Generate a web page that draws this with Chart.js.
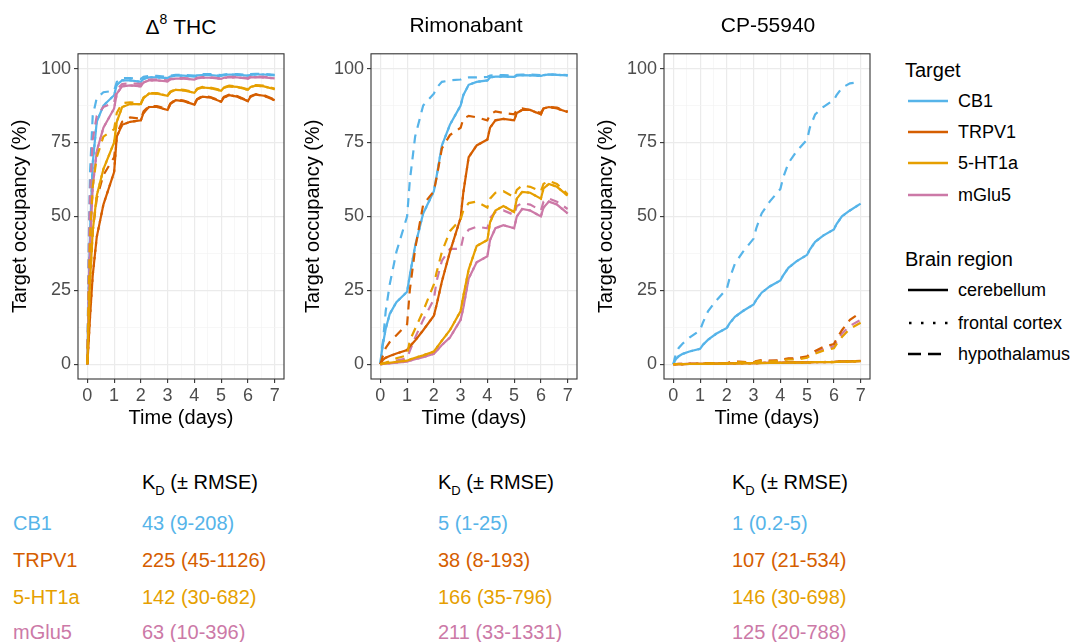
<!DOCTYPE html>
<html>
<head>
<meta charset="utf-8">
<script src="https://cdn.jsdelivr.net/npm/chart.js@4"></script>
<style>
  body { margin: 0; background: #fff; font-family: "Liberation Sans", Arial, sans-serif; }
  #wrap { position: relative; width: 1073px; height: 642px; overflow: hidden; background: #fff; }
  canvas { position: absolute; top: 40px; }
  .ttl { position: absolute; top: 13px; font-size: 21px; color: #000; transform: translateX(-50%); white-space: nowrap; }
  .ttl sup { font-size: 14px; position: relative; top: -2px; }
  .lg { position: absolute; font-size: 18px; line-height: 20px; color: #000; white-space: nowrap; }
  .lgh { position: absolute; font-size: 20px; color: #000; white-space: nowrap; }
  .key { position: absolute; left: 908px; line-height: 0; }
  .key svg { display: block; }
  .tb { position: absolute; font-size: 20px; white-space: nowrap; line-height: 1; }
  .tb sub { font-size: 13px; position: relative; top: 1px; }
</style>
</head>
<body>
<div id="wrap">
  <canvas id="c0" width="300" height="400" style="left:0px"></canvas>
  <canvas id="c1" width="300" height="400" style="left:293px"></canvas>
  <canvas id="c2" width="300" height="400" style="left:586px"></canvas>
</div>
<script>
// time points (days)
const days = [0, 0.05, 0.1, 0.2, 0.35, 0.6, 1, 1.1, 1.3, 1.6, 2, 2.1, 2.3, 2.6, 3, 3.1, 3.3, 3.6, 4, 4.1, 4.3, 4.6, 5, 5.1, 5.3, 5.6, 6, 6.1, 6.3, 6.6, 7];

const targets = ["CB1", "TRPV1", "5-HT1a", "mGlu5"];
const targetColors = ["#56B4E9", "#D55E00", "#E69F00", "#CC79A7"];
const regions = ["cerebellum", "frontal cortex", "hypothalamus"];
const panelTitles = ["Δ<sup>8</sup> THC", "Rimonabant", "CP-55940"];

// Delta-8 THC, occupancy %
const thcCB1Cb = [0, 25, 45, 68, 82, 87.5, 91, 94.5, 96, 96, 95.5, 96.5, 97, 97, 96.8, 97.3, 97.6, 97.6, 97.3, 97.7, 97.8, 97.8, 97.5, 97.8, 98, 97.9, 97.6, 97.9, 98, 98, 97.7];
const thcCB1Hy = [0, 40, 65, 84, 90, 92, 92.5, 95.5, 96.8, 96.8, 96.5, 97.2, 97.5, 97.5, 97.2, 97.6, 97.9, 97.9, 97.6, 97.9, 98.1, 98.1, 97.8, 98, 98.2, 98.1, 97.8, 98.1, 98.2, 98.2, 97.9];
const thcTRCb = [0, 8, 16, 30, 43, 54, 65, 77, 81, 82, 82.5, 85, 87, 87, 86, 88, 89.3, 89, 87.8, 89.5, 90.5, 90.2, 88.8, 90.2, 91, 90.5, 89, 90.5, 91.2, 90.8, 89.3];
const thcTRHy = [0, 15, 28, 45, 56, 64, 70, 78, 82, 83.5, 83, 85.5, 87.3, 87.3, 86.3, 88.2, 89.5, 89.2, 88, 89.7, 90.7, 90.4, 89, 90.4, 91.2, 90.7, 89.2, 90.7, 91.4, 91, 89.5];
const thcHTCb = [0, 15, 28, 45, 57, 66, 75, 82, 87, 88, 88, 90, 91.5, 91.5, 90.8, 92, 92.8, 92.6, 91.8, 93, 93.6, 93.4, 92.5, 93.5, 94, 93.8, 92.8, 93.8, 94.2, 94, 93];
const thcHTHy = [0, 25, 43, 60, 70, 77, 79.5, 85, 88.3, 88.6, 88.3, 90.2, 91.7, 91.7, 91, 92.2, 93, 92.8, 92, 93.2, 93.8, 93.6, 92.7, 93.7, 94.2, 94, 93, 94, 94.4, 94.2, 93.2];
const thcMGCb = [0, 22, 40, 60, 72, 80, 86.5, 91.5, 94, 94.3, 94, 95.3, 96, 96, 95.7, 96.3, 96.6, 96.6, 96.3, 96.7, 96.9, 96.9, 96.5, 96.9, 97, 97, 96.6, 97, 97.1, 97, 96.7];
const thcMGHy = [0, 35, 58, 76, 84, 87, 88.5, 93, 94.8, 95, 94.8, 95.8, 96.3, 96.3, 96, 96.5, 96.8, 96.8, 96.5, 96.9, 97.1, 97.1, 96.7, 97.1, 97.2, 97.2, 96.8, 97.2, 97.3, 97.2, 96.9];

// Rimonabant
const rimCB1Cb = [0, 4, 7, 12, 17, 21, 24.5, 30, 40, 51, 58.5, 63.5, 74, 81, 87.5, 91, 94.5, 95.5, 96, 97, 97.3, 97.3, 97.2, 97.6, 97.8, 97.7, 97.5, 97.8, 98, 97.9, 97.7];
const rimCB1Hy = [0, 5, 8, 18, 27, 38, 50, 62, 77, 87.5, 91.5, 93.5, 95.5, 96, 96.3, 96.8, 97, 97, 97.2, 97.6, 97.8, 97.8, 97.6, 97.9, 98, 98, 97.8, 98, 98, 98, 97.8];
const rimTRCb = [0, 0.8, 1.5, 2.2, 2.8, 3.6, 4.8, 6, 8, 11.5, 16.4, 20, 28, 38, 49.5, 58, 70, 74, 76, 80, 82.5, 83, 82.5, 85, 86, 86, 84.5, 86.5, 87, 86.5, 85.3];
const rimTRHy = [0, 1.5, 3, 5.5, 7.5, 9.8, 13.5, 25, 39, 54, 58.5, 63, 73, 77.5, 80, 83, 84, 83.5, 82.5, 84.5, 85.5, 85, 84.5, 86, 86.5, 86, 85, 86.5, 87, 86.8, 85.5];
const rimHTCb = [0, 0.1, 0.2, 0.3, 0.5, 0.8, 1.2, 1.6, 2.2, 3, 4.3, 5.5, 8, 11.5, 18, 23, 32, 40, 42, 48, 52, 53.5, 51.5, 56, 58.3, 58, 56, 59.5, 61, 60, 57];
const rimHTHy = [0, 0.1, 0.3, 0.6, 1, 2, 3, 8, 12, 18, 27, 31, 38, 45, 49, 52, 54.5, 55, 53, 56, 58, 58.5, 56.5, 59, 60.5, 60, 58.5, 61, 62, 61, 57.5];
const rimMGCb = [0, 0.05, 0.1, 0.2, 0.3, 0.5, 0.9, 1.2, 1.7, 2.4, 3.5, 4.5, 6.5, 9, 15, 19, 29, 34.5, 36.5, 42, 46, 47, 46, 50, 52.5, 52, 50, 53, 55, 54, 51];
const rimMGHy = [0, 0.05, 0.2, 0.4, 0.7, 1.2, 2, 4.5, 9, 15, 22, 28, 35, 39, 39, 43, 45.5, 46.5, 46, 49.5, 51.5, 52, 50.5, 53.5, 54.5, 54, 52, 55, 56, 55, 52.5];

// CP-55940
const cpCB1Cb = [0, 1, 1.8, 2.7, 3.5, 4.3, 5.2, 6.5, 8.3, 10.3, 12.3, 13.8, 16, 18, 20.2, 21.8, 24.2, 26.3, 28.3, 30, 32.6, 34.8, 37, 38.8, 41.4, 43.5, 45.6, 47.4, 50, 52, 54.3];
const cpCB1Hy = [0, 2, 3.5, 5.5, 7, 9, 11.5, 14, 18, 21.5, 25.5, 29, 34, 38, 42.5, 46, 51, 55, 59.3, 63, 68, 72, 76, 80, 84.5, 87, 89.4, 91, 93.5, 95, 95.5];
const cpTRCb = [0, 0, 0, 0.05, 0.05, 0.1, 0.1, 0.15, 0.2, 0.2, 0.25, 0.3, 0.3, 0.35, 0.35, 0.4, 0.45, 0.45, 0.5, 0.55, 0.6, 0.6, 0.6, 0.7, 0.75, 0.75, 0.8, 0.85, 0.95, 0.95, 1.1];
const cpTRHy = [0, 0, 0.05, 0.1, 0.1, 0.1, 0.1, 0.3, 0.4, 0.35, 0.3, 0.6, 0.9, 0.8, 0.6, 1.1, 1.4, 1.2, 1.3, 1.7, 2, 2, 2.7, 3.5, 4.5, 5.8, 6.8, 8.5, 11.5, 15, 17.5];
const cpHTCb = [0, 0, 0, 0.03, 0.05, 0.08, 0.1, 0.12, 0.15, 0.18, 0.2, 0.25, 0.28, 0.3, 0.32, 0.36, 0.4, 0.42, 0.45, 0.5, 0.55, 0.56, 0.57, 0.62, 0.68, 0.7, 0.72, 0.8, 0.88, 0.9, 1];
const cpHTHy = [0, 0, 0.03, 0.08, 0.08, 0.08, 0.08, 0.25, 0.3, 0.28, 0.25, 0.5, 0.7, 0.65, 0.5, 0.9, 1.1, 1, 1.1, 1.4, 1.6, 1.6, 2.2, 2.8, 3.6, 4.6, 5.4, 6.8, 9.2, 12, 14];
const cpMGCb = [0, 0, 0, 0.04, 0.05, 0.09, 0.1, 0.13, 0.17, 0.19, 0.22, 0.27, 0.3, 0.32, 0.34, 0.38, 0.42, 0.44, 0.47, 0.52, 0.57, 0.58, 0.58, 0.65, 0.7, 0.72, 0.75, 0.82, 0.9, 0.92, 1.05];
const cpMGHy = [0, 0, 0.04, 0.09, 0.09, 0.09, 0.09, 0.27, 0.35, 0.3, 0.28, 0.55, 0.8, 0.72, 0.55, 1, 1.25, 1.1, 1.2, 1.5, 1.8, 1.8, 2.5, 3.1, 4, 5.1, 6, 7.6, 10.3, 13, 15];

// [panel][target] -> [cerebellum, frontal cortex, hypothalamus]
// frontal cortex curves sit right under the cerebellum ones
const panelSeries = [
  [[thcCB1Cb, thcCB1Cb, thcCB1Hy], [thcTRCb, thcTRCb, thcTRHy], [thcHTCb, thcHTCb, thcHTHy], [thcMGCb, thcMGCb, thcMGHy]],
  [[rimCB1Cb, rimCB1Cb, rimCB1Hy], [rimTRCb, rimTRCb, rimTRHy], [rimHTCb, rimHTCb, rimHTHy], [rimMGCb, rimMGCb, rimMGHy]],
  [[cpCB1Cb, cpCB1Cb, cpCB1Hy], [cpTRCb, cpTRCb, cpTRHy], [cpHTCb, cpHTCb, cpHTHy], [cpMGCb, cpMGCb, cpMGHy]]
];

// K_D table (± RMSE)
const kdTHC = ["43 (9-208)", "225 (45-1126)", "142 (30-682)", "63 (10-396)"];
const kdRim = ["5 (1-25)", "38 (8-193)", "166 (35-796)", "211 (33-1331)"];
const kdCP = ["1 (0.2-5)", "107 (21-534)", "146 (30-698)", "125 (20-788)"];

const yTicks = [0, 25, 50, 75, 100];
const xTicks = [0, 1, 2, 3, 4, 5, 6, 7];

Chart.defaults.font.family = "'Liberation Sans', Arial, sans-serif";

const dashFor = { "cerebellum": [], "frontal cortex": [2.5, 5], "hypothalamus": [9, 7] };

const boxPlugin = {
  id: "box",
  afterDatasetsDraw(chart) {
    const a = chart.chartArea, c = chart.ctx;
    c.save();
    c.strokeStyle = "#333333";
    c.lineWidth = 1.1;
    c.strokeRect(a.left, a.top, a.right - a.left, a.bottom - a.top);
    c.restore();
  }
};

const drawOrder = [0, 3, 1, 2];       // bottom to top
const regionOrder = [1, 0, 2];

panelSeries.forEach((series, p) => {
  let ds = [];
  drawOrder.forEach(t => {
    regionOrder.forEach(r => {
      ds.push({
        label: targets[t] + " " + regions[r],
        data: days.map((d, i) => ({ x: d, y: series[t][r][i] })),
        borderColor: targetColors[t],
        borderWidth: 2.2,
        borderDash: dashFor[regions[r]],
        pointRadius: 0,
        fill: false,
        tension: 0
      });
    });
  });
  ds = ds.reverse(); // first dataset is painted last in Chart.js

  new Chart(document.getElementById("c" + p), {
    type: "line",
    data: { datasets: ds },
    options: {
      responsive: false,
      animation: false,
      layout: { padding: { top: 11, right: 16, left: 0, bottom: 0 } },
      plugins: { legend: { display: false }, tooltip: { enabled: false } },
      scales: {
        x: {
          type: "linear",
          min: -0.35, max: 7.35,
          afterFit: s => { s.height = 61; },
          border: { display: false },
          grid: {
            color: c => Number.isInteger(c.tick.value) ? "#ebebeb" : "#f4f4f4",
            lineWidth: c => Number.isInteger(c.tick.value) ? 1.2 : 0.7,
            tickColor: c => Number.isInteger(c.tick.value) ? "#333333" : "rgba(0,0,0,0)",
            tickWidth: 1.1,
            tickLength: 4
          },
          ticks: {
            stepSize: 0.5, includeBounds: false, autoSkip: false, maxRotation: 0,
            padding: 2, color: "#4d4d4d", font: { size: 18 },
            callback: v => xTicks.includes(v) ? String(v) : ""
          },
          title: { display: true, text: "Time (days)", color: "#000", font: { size: 20, lineHeight: 1.2 }, padding: { top: 0, bottom: 10 } }
        },
        y: {
          min: -5, max: 105,
          afterFit: s => { s.width = 78; },
          border: { display: false },
          grid: {
            color: c => c.tick.value % 25 === 0 ? "#ebebeb" : "#f4f4f4",
            lineWidth: c => c.tick.value % 25 === 0 ? 1.2 : 0.7,
            tickColor: c => c.tick.value % 25 === 0 ? "#333333" : "rgba(0,0,0,0)",
            tickWidth: 1.1,
            tickLength: 4
          },
          ticks: {
            stepSize: 12.5, includeBounds: false, autoSkip: false,
            padding: 3, color: "#4d4d4d", font: { size: 18 },
            callback: v => yTicks.includes(v) ? String(v) : ""
          },
          title: { display: true, text: "Target occupancy (%)", color: "#000", font: { size: 20, lineHeight: 1.2 }, padding: { top: 8, bottom: 0 } }
        }
      }
    },
    plugins: [boxPlugin]
  });
});

// HTML text: panel titles, legend, K_D table
const wrap = document.getElementById("wrap");
function addDiv(cls, html, style) {
  const d = document.createElement("div");
  d.className = cls;
  d.innerHTML = html;
  Object.assign(d.style, style);
  wrap.appendChild(d);
  return d;
}

const titleCenters = [181, 466, 768];
panelTitles.forEach((t, i) => addDiv("ttl", t, { left: titleCenters[i] + "px" }));

// legend
addDiv("lgh", "Target", { left: "905px", top: "59px" });
const targetRows = [101, 132, 163, 195];
targets.forEach((t, i) => {
  addDiv("key", '<svg width="40" height="6"><line x1="0" y1="3" x2="40" y2="3" stroke="' + targetColors[i] + '" stroke-width="2.6"/></svg>', { top: (targetRows[i] - 3) + "px" });
  addDiv("lg", t, { left: "958px", top: (targetRows[i] - 10) + "px" });
});
addDiv("lgh", "Brain region", { left: "905px", top: "248px" });
const regionRows = [290, 323, 354];
const keyDash = ["", "2.5 9.5", "13 7"];
regions.forEach((r, i) => {
  addDiv("key", '<svg width="40" height="6"><line x1="' + (i === 1 ? 1 : 0) + '" y1="3" x2="40" y2="3" stroke="#000" stroke-width="2.6" stroke-dasharray="' + keyDash[i] + '"/></svg>', { top: (regionRows[i] - 3) + "px" });
  addDiv("lg", r, { left: "958px", top: (regionRows[i] - 10) + "px" });
});

// K_D table
const colX = [142, 438, 732];
const rowY = [523, 560, 597, 632];
colX.forEach(x => addDiv("tb", "K<sub>D</sub> (± RMSE)", { left: x + "px", top: "472px", color: "#000" }));
[kdTHC, kdRim, kdCP].forEach((col, c) => {
  col.forEach((txt, i) => addDiv("tb", txt, { left: colX[c] + "px", top: (rowY[i] - 10) + "px", color: targetColors[i] }));
});
targets.forEach((t, i) => addDiv("tb", t, { left: "13px", top: (rowY[i] - 10) + "px", color: targetColors[i] }));
</script>
</body>
</html>
